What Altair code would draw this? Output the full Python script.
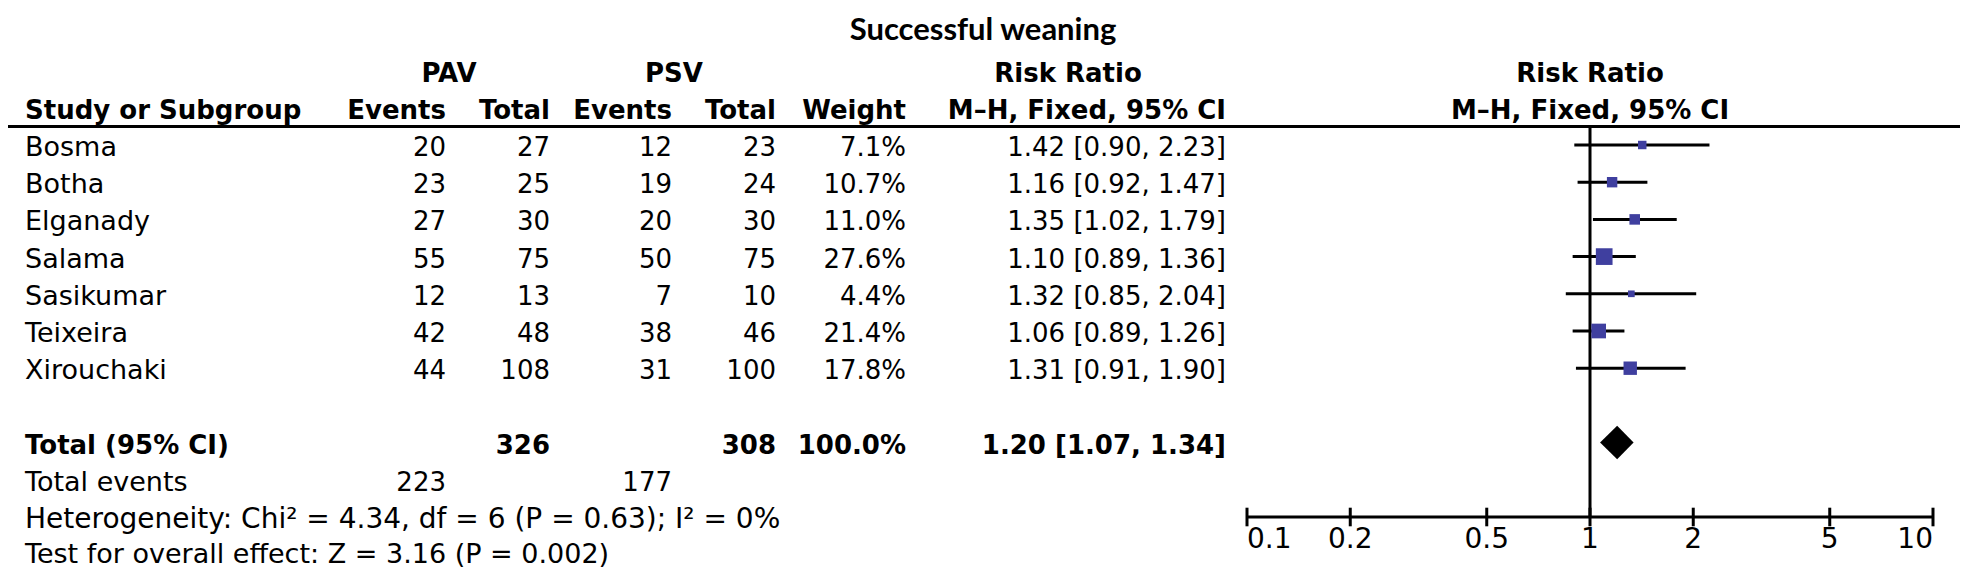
import altair as alt
import pandas as pd

# ---------------- data ----------------
studies = ["Bosma", "Botha", "Elganady", "Salama", "Sasikumar", "Teixeira", "Xirouchaki"]
pav_events = [20, 23, 27, 55, 12, 42, 44]
pav_total = [27, 25, 30, 75, 13, 48, 108]
psv_events = [12, 19, 20, 50, 7, 38, 31]
psv_total = [23, 24, 30, 75, 10, 46, 100]
weight_pct = [7.1, 10.7, 11.0, 27.6, 4.4, 21.4, 17.8]
rr_est = [1.42, 1.16, 1.35, 1.10, 1.32, 1.06, 1.31]
rr_low = [0.90, 0.92, 1.02, 0.89, 0.85, 0.89, 0.91]
rr_high = [2.23, 1.47, 1.79, 1.36, 2.04, 1.26, 1.90]

total_label = "Total (95% CI)"
total_pav = 326
total_psv = 308
total_weight = 100.0
pooled_est = 1.20
pooled_low = 1.07
pooled_high = 1.34
events_label = "Total events"
events_pav = 223
events_psv = 177
heterogeneity_text = "Heterogeneity: Chi\u00b2 = 4.34, df = 6 (P = 0.63); I\u00b2 = 0%"
overall_text = "Test for overall effect: Z = 3.16 (P = 0.002)"
axis_ticks = [0.1, 0.2, 0.5, 1, 2, 5, 10]
axis_tick_labels = ["0.1", "0.2", "0.5", "1", "2", "5", "10"]
title_text = "Successful weaning"

# ---------------- layout ----------------
W, H = 1952, 509
FONT = "DejaVu Sans"
FS = 26
DY = 3
LW = 3
HEAD1, HEAD2, LINE_ROW = -2, -1, -0.5
TOTAL_ROW, EVENTS_ROW, HET_ROW, TEST_ROW, AXIS_ROW = 8, 9, 10, 11, 10
TICK_HALF = 0.25
DIAMOND_HALF = 0.45
LABEL_ROW = 10.62

X_NAME = 17
X_PAV_E, X_PAV_T, X_PSV_E, X_PSV_T = 438, 542, 664, 768
X_WEIGHT, X_CI = 898, 1218
X_PAV_HEAD, X_PSV_HEAD, X_RR_HEAD = 441, 666, 1060

xscale = alt.Scale(type="log", domain=[0.1, 10], range=[1239, 1925], nice=False)
yscale = alt.Scale(domain=[0, 10], range=[137, 509], nice=False, zero=False)

study_rows = list(range(len(studies)))


def text_layer(texts, rows, x, align, bold=False, size=FS, font=FONT, dy=DY):
    df = pd.DataFrame({"text": [str(t) for t in texts], "row": rows})
    return alt.Chart(df).mark_text(
        align=align, baseline="middle", dy=dy, fontSize=size, font=font,
        fontWeight="bold" if bold else "normal", color="black"
    ).encode(
        x=alt.value(x),
        y=alt.Y("row:Q", scale=yscale, axis=None),
        text="text:N",
    )


layers = []

# CI lines (first layer carrying the shared x / y scales)
sdf = pd.DataFrame({"row": study_rows, "est": rr_est, "lo": rr_low, "hi": rr_high, "w": weight_pct})
layers.append(
    alt.Chart(sdf).mark_rule(color="black", strokeWidth=LW).encode(
        x=alt.X("lo:Q", scale=xscale, axis=None), x2="hi:Q",
        y=alt.Y("row:Q", scale=yscale, axis=None))
)

# title
layers.append(
    alt.Chart(pd.DataFrame({"t": [title_text]})).mark_text(
        align="center", baseline="middle", fontSize=31, font="Lato", fontWeight="bold", color="black"
    ).encode(x=alt.value(975), y=alt.value(23), text="t:N")
)

# header line
layers.append(
    alt.Chart(pd.DataFrame({"row": [LINE_ROW]})).mark_rule(color="black", strokeWidth=LW).encode(
        x=alt.value(0), x2=alt.value(W), y=alt.Y("row:Q", scale=yscale, axis=None)
    )
)

# headers
layers += [
    text_layer(["PAV"], [HEAD1], X_PAV_HEAD, "center", True),
    text_layer(["PSV"], [HEAD1], X_PSV_HEAD, "center", True),
    text_layer(["Risk Ratio"], [HEAD1], X_RR_HEAD, "center", True),
    text_layer(["Study or Subgroup"], [HEAD2], X_NAME, "left", True),
    text_layer(["Events"], [HEAD2], X_PAV_E, "right", True),
    text_layer(["Total"], [HEAD2], X_PAV_T, "right", True),
    text_layer(["Events"], [HEAD2], X_PSV_E, "right", True),
    text_layer(["Total"], [HEAD2], X_PSV_T, "right", True),
    text_layer(["Weight"], [HEAD2], X_WEIGHT, "right", True),
    text_layer(["M\u2013H, Fixed, 95% CI"], [HEAD2], X_CI, "right", True),
]

# forest headers centred on RR = 1
fh = pd.DataFrame({"x": [1, 1], "row": [HEAD1, HEAD2], "text": ["Risk Ratio", "M\u2013H, Fixed, 95% CI"]})
layers.append(
    alt.Chart(fh).mark_text(align="center", baseline="middle", dy=DY, fontSize=FS, font=FONT,
                            fontWeight="bold", color="black").encode(
        x=alt.X("x:Q", scale=xscale, axis=None), y=alt.Y("row:Q", scale=yscale, axis=None), text="text:N")
)

# study rows
ci_text = [f"{e:.2f} [{l:.2f}, {h:.2f}]" for e, l, h in zip(rr_est, rr_low, rr_high)]
layers += [
    text_layer(studies, study_rows, X_NAME, "left", size=27),
    text_layer(pav_events, study_rows, X_PAV_E, "right"),
    text_layer(pav_total, study_rows, X_PAV_T, "right"),
    text_layer(psv_events, study_rows, X_PSV_E, "right"),
    text_layer(psv_total, study_rows, X_PSV_T, "right"),
    text_layer([f"{w:.1f}%" for w in weight_pct], study_rows, X_WEIGHT, "right"),
    text_layer(ci_text, study_rows, X_CI, "right"),
]

# total rows
layers += [
    text_layer([total_label], [TOTAL_ROW], X_NAME, "left", True),
    text_layer([total_pav], [TOTAL_ROW], X_PAV_T, "right", True),
    text_layer([total_psv], [TOTAL_ROW], X_PSV_T, "right", True),
    text_layer([f"{total_weight:.1f}%"], [TOTAL_ROW], X_WEIGHT, "right", True),
    text_layer([f"{pooled_est:.2f} [{pooled_low:.2f}, {pooled_high:.2f}]"], [TOTAL_ROW], X_CI, "right", True),
    text_layer([events_label], [EVENTS_ROW], X_NAME, "left", size=27),
    text_layer([events_pav], [EVENTS_ROW], X_PAV_E, "right"),
    text_layer([events_psv], [EVENTS_ROW], X_PSV_E, "right"),
    text_layer([heterogeneity_text], [HET_ROW], X_NAME, "left", size=28),
    text_layer([overall_text], [TEST_ROW], X_NAME, "left", size=27, dy=1),
]

# vertical line of no effect
layers.append(
    alt.Chart(pd.DataFrame({"x": [1], "y0": [LINE_ROW], "y1": [AXIS_ROW]})).mark_rule(
        color="black", strokeWidth=LW).encode(
        x=alt.X("x:Q", scale=xscale, axis=None),
        y=alt.Y("y0:Q", scale=yscale, axis=None), y2="y1:Q")
)

# axis line
layers.append(
    alt.Chart(pd.DataFrame({"lo": [axis_ticks[0]], "hi": [axis_ticks[-1]], "row": [AXIS_ROW]})).mark_rule(
        color="black", strokeWidth=LW).encode(
        x=alt.X("lo:Q", scale=xscale, axis=None), x2="hi:Q",
        y=alt.Y("row:Q", scale=yscale, axis=None))
)

# ticks crossing the axis line
tdf = pd.DataFrame({"tick": axis_ticks, "label": axis_tick_labels,
                    "top": [AXIS_ROW - TICK_HALF] * len(axis_ticks),
                    "bot": [AXIS_ROW + TICK_HALF] * len(axis_ticks),
                    "lrow": [LABEL_ROW] * len(axis_ticks)})
layers.append(
    alt.Chart(tdf).mark_rule(color="black", strokeWidth=LW).encode(
        x=alt.X("tick:Q", scale=xscale, axis=None),
        y=alt.Y("top:Q", scale=yscale, axis=None), y2="bot:Q")
)


# tick labels: first flush left, last flush right, others centred
def tick_labels(df, align):
    return alt.Chart(df).mark_text(align=align, baseline="middle", fontSize=28, font=FONT,
                                   color="black").encode(
        x=alt.X("tick:Q", scale=xscale, axis=None),
        y=alt.Y("lrow:Q", scale=yscale, axis=None),
        text="label:N")


layers += [
    tick_labels(tdf.iloc[[0]], "left"),
    tick_labels(tdf.iloc[1:-1], "center"),
    tick_labels(tdf.iloc[[-1]], "right"),
]

# weight squares
layers.append(
    alt.Chart(sdf).mark_point(shape="square", filled=True, opacity=1, color="#3f3f9f", strokeWidth=0).encode(
        x=alt.X("est:Q", scale=xscale, axis=None),
        y=alt.Y("row:Q", scale=yscale, axis=None),
        size=alt.Size("w:Q", scale=alt.Scale(domain=[0, 30], range=[0, 303], zero=True), legend=None))
)

# pooled diamond
ddf = pd.DataFrame({
    "x": [pooled_low, pooled_est, pooled_high],
    "ylo": [TOTAL_ROW, TOTAL_ROW - DIAMOND_HALF, TOTAL_ROW],
    "yhi": [TOTAL_ROW, TOTAL_ROW + DIAMOND_HALF, TOTAL_ROW],
})
layers.append(
    alt.Chart(ddf).mark_area(color="black", opacity=1).encode(
        x=alt.X("x:Q", scale=xscale, axis=None),
        y=alt.Y("ylo:Q", scale=yscale, axis=None), y2="yhi:Q")
)

chart = alt.layer(*layers).properties(
    width=W, height=H,
    autosize=alt.AutoSizeParams(type="none"),
    padding={"left": 0, "top": 0, "right": 0, "bottom": 56},
).configure_view(stroke=None)

chart.save("out.html", embed_options={"renderer": "svg", "actions": False})
